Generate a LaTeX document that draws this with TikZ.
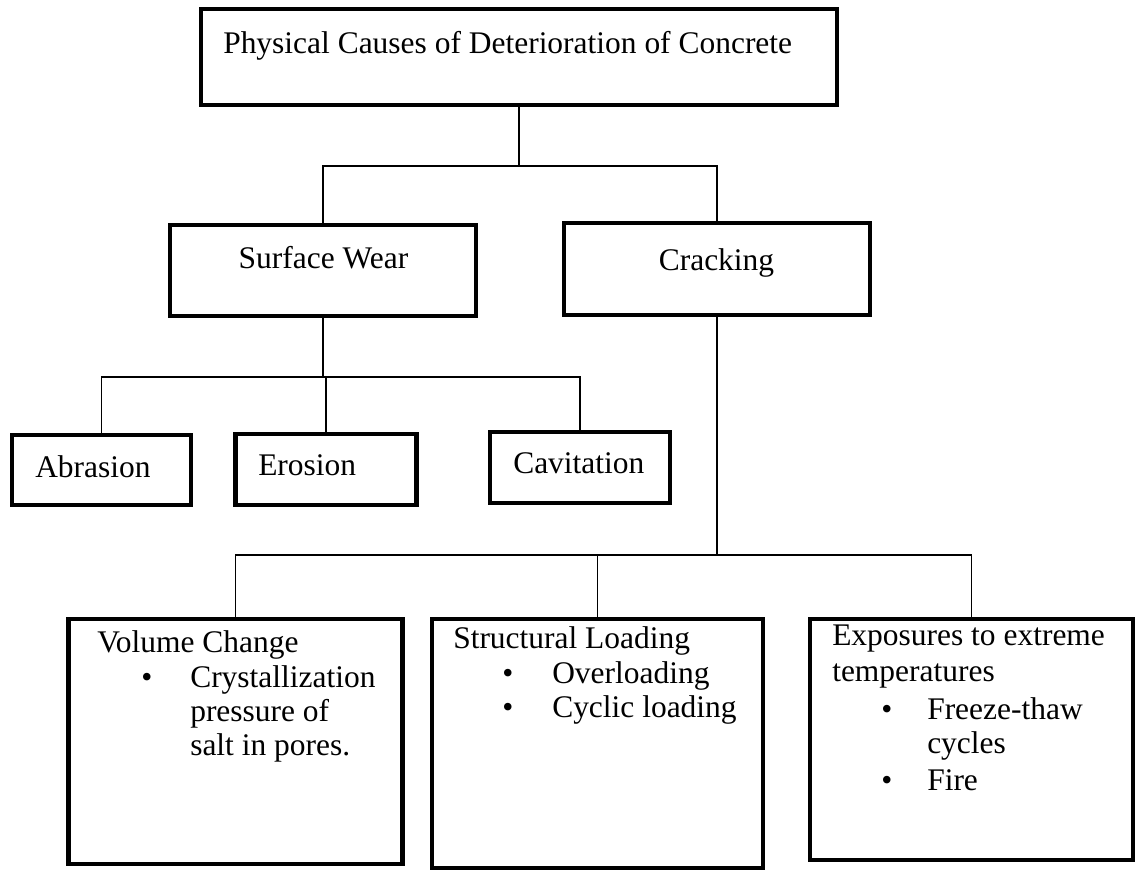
\documentclass[tikz,border=0pt]{standalone}
\usepackage{fontspec}
\setmainfont{Liberation Serif}
\begin{document}
\begin{tikzpicture}[x=0.75pt,y=-0.75pt,
  box/.style={draw=black, line width=3.6pt, fill=white, inner sep=0pt},
  conn/.style={draw=black, line width=1.1pt},
  txt/.style={inner sep=0pt, font=\fontsize{23.6pt}{27pt}\selectfont},
  bul/.style={txt, anchor=base}]
\useasboundingbox (0,0) rectangle (1140,872);

% boxes (centre in px; sizes in px, converted to pt)
\node[box, minimum width=0.75*636pt, minimum height=0.75*96pt] (top) at (519,57) {};
\node[box, minimum width=0.75*306pt, minimum height=0.75*91pt] (sw) at (323,270.5) {};
\node[box, minimum width=0.75*306pt, minimum height=0.75*92pt] (cr) at (717,269) {};
\node[box, minimum width=0.75*179pt, minimum height=0.75*70pt] (ab) at (101.5,470) {};
\node[box, minimum width=0.75*181pt, minimum height=0.75*71pt] (er) at (326,469.5) {};
\node[box, minimum width=0.75*180pt, minimum height=0.75*71pt] (cv) at (580,467.5) {};
\node[box, minimum width=0.75*334pt, minimum height=0.75*245pt] (vc) at (235.5,741.5) {};
\node[box, minimum width=0.75*331pt, minimum height=0.75*249pt] (sl) at (597.5,743.5) {};
\node[box, minimum width=0.75*323pt, minimum height=0.75*241pt] (ex) at (971.5,739.5) {};

% junction points of the tree
\coordinate (h1) at (519,166);
\coordinate (h2) at (323,377);
\coordinate (h3) at (717,555);

% connectors
\draw[conn] (top.south) -- (h1);
\draw[conn] (sw.north) |- (h1) -| (cr.north);
\draw[conn] (sw.south) -- (h2);
\draw[conn] (ab.north) |- (h2) -| (cv.north);
\draw[conn] (er.north) -- (er.north |- h2);
\draw[conn] (cr.south) -- (h3);
\draw[conn] (vc.north) |- (h3) -| (ex.north);
\draw[conn] (sl.north) -- (sl.north |- h3);

% labels
\node[txt, anchor=base west] (ttop) at (223,53) {Physical Causes of Deterioration of Concrete};
\node[txt, anchor=base] (tsw) at (323.5,268) {Surface Wear};
\node[txt, anchor=base] (tcr) at (716.5,270) {Cracking};
\node[txt, anchor=base west] (tab) at (35,477) {Abrasion};
\node[txt, anchor=base west] (ter) at (258,475) {Erosion};
\node[txt, anchor=base west] (tcv) at (513,473) {Cavitation};

% volume change
\node[txt, anchor=base west] (vc1) at (97,652) {Volume Change};
\node[bul] (vcb) at (147,687) {\textbullet};
\node[txt, anchor=base west] (vc2) at (190,687) {Crystallization};
\node[txt, anchor=base west] (vc3) at (190,721) {pressure of};
\node[txt, anchor=base west] (vc4) at (190,755) {salt in pores.};

% structural loading
\node[txt, anchor=base west] (sl1) at (453,648) {Structural Loading};
\node[bul] (slb1) at (508,683) {\textbullet};
\node[txt, anchor=base west] (sl2) at (552,683) {Overloading};
\node[bul] (slb2) at (508,717) {\textbullet};
\node[txt, anchor=base west] (sl3) at (552,717) {Cyclic loading};

% extreme temperatures
\node[txt, anchor=base west] (ex1) at (832,645) {Exposures to extreme};
\node[txt, anchor=base west] (ex2) at (832,681) {temperatures};
\node[bul] (exb1) at (887,719) {\textbullet};
\node[txt, anchor=base west] (ex3) at (927,719) {Freeze-thaw};
\node[txt, anchor=base west] (ex4) at (927,753) {cycles};
\node[bul] (exb2) at (887,790) {\textbullet};
\node[txt, anchor=base west] (ex5) at (927,790) {Fire};
\end{tikzpicture}
\end{document}
